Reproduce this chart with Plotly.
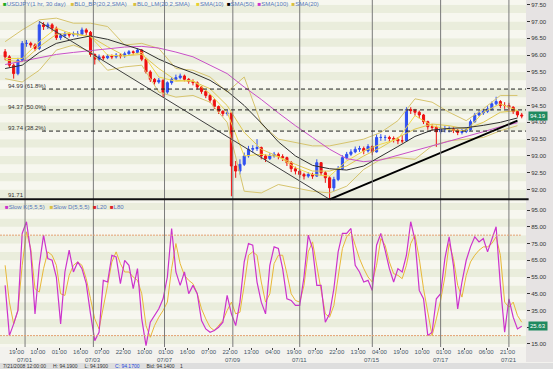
import plotly.graph_objects as go

# ---------------- data ----------------
first_open = 96.10
close = [95.95, 95.70, 95.45, 95.85, 96.35, 96.35, 96.30, 96.20, 96.90, 96.85,
         96.90, 96.80, 96.52, 96.58, 96.62, 96.60, 96.62, 96.62, 96.75, 96.68,
         96.02, 95.88, 95.95, 95.92, 95.97, 95.95, 96.00, 95.98, 96.04, 96.10,
         96.08, 96.15, 95.88, 95.50, 95.28, 95.20, 95.25, 94.90, 95.18, 95.28,
         95.33, 95.38, 95.28, 95.22, 95.18, 95.05, 94.92, 94.80, 94.66, 94.47,
         94.33, 94.26, 94.28, 92.70, 92.55, 92.75, 93.00, 93.20, 93.22, 93.25,
         93.00, 92.92, 93.00, 93.05, 92.98, 92.95, 92.80, 92.62, 92.55, 92.45,
         92.40, 92.45, 92.40, 92.80, 92.50, 92.35, 92.05, 92.30, 92.62, 92.95,
         93.05, 93.12, 93.20, 93.22, 93.15, 93.28, 93.12, 93.55, 93.55, 93.55,
         93.52, 93.50, 93.45, 93.45, 94.38, 94.35, 94.30, 94.22, 94.02, 93.87,
         93.85, 93.72, 93.80, 93.80, 93.80, 93.76, 93.70, 93.73, 93.78, 94.02,
         94.22, 94.28, 94.33, 94.40, 94.55, 94.62, 94.50, 94.50, 94.45, 94.32,
         94.22, 94.19]
high = [96.18, 96.00, 95.75, 95.92, 96.42, 96.45, 96.40, 96.35, 97.00, 96.98,
        96.97, 96.95, 96.85, 96.65, 96.70, 96.68, 96.70, 96.72, 96.82, 96.80,
        96.72, 96.05, 96.02, 96.00, 96.03, 96.02, 96.06, 96.05, 96.10, 96.15,
        96.14, 96.20, 96.18, 95.92, 95.55, 95.32, 95.32, 95.28, 95.22, 95.35,
        95.42, 95.45, 95.42, 95.32, 95.28, 95.22, 95.08, 94.96, 94.84, 94.70,
        94.50, 94.36, 94.36, 94.30, 92.85, 92.90, 93.10, 93.30, 93.32, 93.50,
        93.28, 93.05, 93.08, 93.12, 93.10, 93.05, 92.98, 92.85, 92.68, 92.60,
        92.50, 92.52, 92.50, 92.90, 92.82, 92.55, 92.40, 92.38, 92.70, 93.02,
        93.12, 93.20, 93.28, 93.30, 93.28, 93.35, 93.32, 93.65, 93.65, 93.62,
        93.60, 93.58, 93.55, 93.62, 94.45, 94.45, 94.40, 94.35, 94.25, 94.05,
        93.95, 93.90, 93.88, 93.90, 93.88, 93.85, 93.80, 93.80, 93.85, 94.08,
        94.28, 94.36, 94.40, 94.48, 94.62, 94.76, 94.66, 94.60, 94.58, 94.48,
        94.35, 94.28]
low = [95.85, 95.62, 95.30, 95.40, 95.80, 96.25, 96.22, 96.12, 96.15, 96.75,
       96.78, 96.70, 96.45, 96.45, 96.52, 96.52, 96.55, 96.55, 96.58, 96.60,
       95.95, 95.72, 95.82, 95.85, 95.88, 95.88, 95.90, 95.90, 95.92, 96.00,
       96.00, 96.04, 95.82, 95.45, 95.20, 95.12, 95.15, 94.75, 94.85, 95.12,
       95.25, 95.28, 95.22, 95.15, 95.10, 94.98, 94.85, 94.72, 94.58, 94.40,
       94.25, 94.18, 94.20, 91.80, 92.35, 92.45, 92.70, 92.95, 93.10, 93.15,
       92.90, 92.82, 92.88, 92.95, 92.90, 92.85, 92.70, 92.52, 92.45, 92.35,
       92.30, 92.35, 92.32, 92.38, 92.42, 92.20, 91.71, 91.95, 92.25, 92.58,
       92.90, 93.00, 93.08, 93.12, 93.05, 93.10, 93.02, 93.10, 93.45, 93.45,
       93.42, 93.40, 93.35, 93.38, 93.42, 94.25, 94.20, 94.12, 93.95, 93.78,
       93.75, 93.27, 93.65, 93.70, 93.70, 93.68, 93.62, 93.64, 93.68, 93.75,
       93.98, 94.18, 94.22, 94.28, 94.35, 94.50, 94.42, 94.40, 94.35, 94.25,
       94.15, 94.12]
open_ = [first_open] + close[:-1]
bars = [-14 + 3 * i for i in range(len(close))]      # hourly bar index of each candle

# indicators, read every 4th candle
ind_x = bars[::4]
sma50 = [95.60, 95.70, 96.08, 96.35, 96.47, 96.57, 96.47, 96.32, 96.15, 95.88,
         95.66, 95.47, 95.25, 94.93, 94.50, 93.98, 93.42, 93.00, 92.72, 92.62,
         92.58, 92.70, 92.98, 93.28, 93.58, 93.77, 93.82, 93.84, 93.91, 94.00, 94.13]
sma100 = [95.72, 95.82, 95.93, 96.02, 96.08, 96.13, 96.19, 96.24, 96.26, 96.21,
          96.09, 95.95, 95.70, 95.45, 95.05, 94.68, 94.28, 93.90, 93.55, 93.20,
          92.92, 92.83, 92.88, 93.02, 93.15, 93.30, 93.42, 93.57, 93.72, 93.87, 93.99]
bb_upper = [96.40, 96.75, 97.05, 97.10, 96.95, 96.95, 96.85, 96.30, 96.35, 96.20,
            95.60, 95.55, 95.35, 94.90, 95.35, 93.95, 93.50, 93.40, 93.30, 93.30,
            93.40, 93.50, 93.70, 94.05, 94.70, 94.60, 94.30, 94.05, 94.40, 94.80, 94.80]
bb_lower = [95.30, 95.20, 95.55, 96.15, 96.30, 96.10, 95.55, 95.65, 95.70, 94.90,
            94.75, 94.80, 94.60, 94.00, 91.95, 91.90, 92.15, 92.05, 91.95, 91.90,
            92.10, 92.60, 92.90, 92.95, 92.90, 93.30, 93.45, 93.50, 93.55, 93.75, 93.90]
sma20 = [95.85, 95.80, 96.25, 96.62, 96.65, 96.55, 96.25, 95.98, 96.02, 95.60,
         95.25, 95.22, 95.00, 94.50, 93.70, 93.20, 92.98, 92.75, 92.55, 92.55,
         92.70, 93.00, 93.25, 93.55, 93.80, 93.95, 93.90, 93.80, 94.00, 94.30, 94.35]
sma10 = [95.90, 95.90, 96.40, 96.80, 96.62, 96.55, 96.00, 95.97, 96.08, 95.35,
         95.22, 95.25, 94.85, 94.30, 93.00, 93.05, 92.98, 92.65, 92.45, 92.40,
         92.85, 93.15, 93.35, 93.50, 94.20, 93.90, 93.78, 93.75, 94.30, 94.55, 94.35]

slow_k = [50, 20, 27, 35, 81, 88, 70, 33, 62, 80, 66, 65, 55, 27, 58, 71, 58, 64, 60, 51,
          33, 17, 22, 53, 52, 68, 67, 51, 65, 62, 48, 60, 30, 14, 28, 32, 36, 42, 55, 84,
          58, 50, 58, 45, 50, 45, 29, 24, 22, 23, 25, 28, 44, 33, 26, 40, 64, 75, 74, 52,
          40, 33, 62, 73, 72, 60, 42, 41, 38, 38, 55, 80, 72, 50, 50, 28, 33, 48, 70, 81,
          81, 84, 62, 58, 52, 53, 47, 74, 81, 71, 60, 52, 60, 58, 68, 88, 77, 47, 42, 20,
          22, 42, 45, 66, 79, 62, 36, 52, 65, 73, 79, 76, 78, 70, 78, 85, 50, 22, 42, 31,
          24, 25.63]
slow_d = [62, 40, 27, 35, 62, 82, 72, 48, 46, 60, 70, 68, 62, 45, 44, 56, 62, 64, 62, 54,
          42, 30, 24, 36, 50, 64, 70, 63, 58, 58, 55, 53, 45, 26, 19, 26, 31, 35, 40, 60,
          75, 63, 56, 53, 51, 45, 36, 30, 25, 23, 26, 29, 35, 40, 33, 34, 50, 68, 70, 68,
          52, 40, 45, 63, 68, 68, 57, 45, 41, 40, 50, 70, 76, 62, 48, 33, 31, 38, 55, 72,
          79, 82, 74, 66, 60, 55, 52, 62, 78, 74, 64, 57, 56, 54, 62, 75, 80, 66, 48, 33,
          20, 30, 41, 55, 75, 66, 50, 43, 56, 64, 68, 71, 73, 73, 75, 79, 68, 40, 37, 40,
          32, 28]

time_tick_bars = [-6, 9, 24, 39, 54, 69, 84, 99, 114, 129, 144, 159, 174, 189, 204,
                  219, 234, 249, 264, 279, 294, 309, 324, 339]
time_tick_labels = ["19:00", "10:00", "01:00", "16:00", "07:00", "22:00", "10:00", "01:00",
                    "16:00", "07:00", "22:00", "13:00", "04:00", "19:00", "07:00", "22:00",
                    "13:00", "04:00", "19:00", "10:00", "01:00", "16:00", "06:00", "21:00"]
day_bars = [0, 48, 98, 146, 193, 244, 292, 340]
day_labels = ["07/01", "07/03", "07/07", "07/09", "07/11", "07/15", "07/17", "07/21"]

fib_levels = [94.99, 94.37, 93.74]
fib_labels = ["94.99 (61.8%)", "94.37 (50.0%)", "93.74 (38.2%)"]
swing_low = 91.71
trend_down_x = [bars[8], bars[76]]
trend_down_y = [high[8], low[76]]
trend_up_x = [bars[76], 346]
trend_up_y = [low[76], 94.05]
osc_levels = [20, 80]

price_ticks = [92.0, 92.5, 93.0, 93.5, 94.0, 94.5, 95.0, 95.5, 96.0, 96.5, 97.0, 97.5]
osc_ticks = [15, 25, 35, 45, 55, 65, 75, 85, 95]
last_price = 94.19
last_k = 25.63

# ---------------- figure ----------------
W, H = 553, 369
ML, MR, MT, MB = 0, 27, 0, 22
PH = H - MT - MB
PW = W - ML - MR
split = 203  # pixel row where the oscillator panel starts
osc_top = 1 - split / PH

fig = go.Figure()

gold = "#d6c46e"
fig.add_trace(go.Scatter(x=ind_x, y=bb_upper, mode="lines", line=dict(color=gold, width=1), yaxis="y"))
fig.add_trace(go.Scatter(x=ind_x, y=bb_lower, mode="lines", line=dict(color=gold, width=1), yaxis="y"))
fig.add_trace(go.Scatter(x=ind_x, y=sma20, mode="lines", line=dict(color="#e0c850", width=1), yaxis="y"))
fig.add_trace(go.Scatter(x=ind_x, y=sma10, mode="lines", line=dict(color="#efd84a", width=1), yaxis="y"))
fig.add_trace(go.Scatter(x=ind_x, y=sma100, mode="lines", line=dict(color="#c850c8", width=1), yaxis="y"))
fig.add_trace(go.Scatter(x=ind_x, y=sma50, mode="lines", line=dict(color="#303030", width=1), yaxis="y"))

fig.add_trace(go.Candlestick(
    x=bars, open=open_, high=high, low=low, close=close,
    increasing=dict(line=dict(color="#3050f0", width=1), fillcolor="#3050f0"),
    decreasing=dict(line=dict(color="#ee1111", width=1), fillcolor="#ee1111"),
    whiskerwidth=0, yaxis="y"))

fig.add_trace(go.Scatter(x=trend_down_x, y=trend_down_y, mode="lines",
                         line=dict(color="#404040", width=1), yaxis="y"))
fig.add_trace(go.Scatter(x=trend_up_x, y=trend_up_y, mode="lines",
                         line=dict(color="#000000", width=2), yaxis="y"))

fig.add_trace(go.Scatter(x=bars, y=slow_d, mode="lines", line=dict(color="#e8b838", width=1), yaxis="y2"))
fig.add_trace(go.Scatter(x=bars, y=slow_k, mode="lines", line=dict(color="#cc33cc", width=1.2), yaxis="y2"))

shapes = []
# background stripes
lv = 91.5
k = 0
while lv < 97.8:
    shapes.append(dict(type="rect", xref="paper", yref="y", x0=0, x1=1, y0=lv, y1=lv + 0.25,
                       fillcolor="#f7f7ef" if k % 2 == 0 else "#eaeddc", line=dict(width=0), layer="below"))
    lv += 0.25
    k += 1
lv = 10
k = 0
while lv < 100:
    shapes.append(dict(type="rect", xref="paper", yref="y2", x0=0, x1=1, y0=lv, y1=lv + 5,
                       fillcolor="#f7f7ef" if k % 2 == 0 else "#eaeddc", line=dict(width=0), layer="below"))
    lv += 5
    k += 1
# right axis strip
shapes.append(dict(type="rect", xref="paper", yref="paper", x0=1, x1=W / PW,
                   y0=-(362 - PH) / PH, y1=1, fillcolor="#e6e3e3", line=dict(width=0), layer="below"))
# day separators
for b in day_bars:
    shapes.append(dict(type="line", xref="x", yref="paper", x0=b, x1=b, y0=0, y1=1,
                       line=dict(color="#7a7a7a", width=1), layer="above"))
# fib levels
for lvl in fib_levels:
    shapes.append(dict(type="line", xref="paper", yref="y", x0=42 / PW, x1=1, y0=lvl, y1=lvl,
                       line=dict(color="#222222", width=1, dash="4px,3px"), layer="above"))
shapes.append(dict(type="line", xref="paper", yref="y", x0=0, x1=1.005, y0=swing_low, y1=swing_low,
                   line=dict(color="#111111", width=2), layer="above"))
for lvl in osc_levels:
    shapes.append(dict(type="line", xref="paper", yref="y2", x0=0, x1=0.99, y0=lvl, y1=lvl,
                       line=dict(color="#e3a070", width=1, dash="2px,1px"), layer="above"))
# status bar
shapes.append(dict(type="rect", xref="paper", yref="paper", x0=0, x1=W / PW,
                   y0=-(H - PH) / PH, y1=-(363 - PH) / PH,
                   fillcolor="#dedede", line=dict(width=0), layer="below"))

ann = []
FONT = "Liberation Sans"
lab_col = "#5577bb"
leg = ("<span style='color:#22aa22'>■</span>USDJPY(1 hr, 30 day)   "
       "<span style='color:#d8c040'>■</span>BL0_BP(20,2,SMA)    "
       "<span style='color:#d8c040'>■</span>BL0_LM(20,2,SMA)    "
       "<span style='color:#e8d030'>■</span>SMA(10)  "
       "<span style='color:#000000'>■</span>SMA(50)  "
       "<span style='color:#cc33cc'>■</span>SMA(100)  "
       "<span style='color:#d8c040'>■</span>SMA(20)")
ann.append(dict(xref="paper", yref="paper", x=0.002, y=1 - 4 / PH, xanchor="left", yanchor="middle",
                text=leg, showarrow=False, font=dict(family=FONT, size=6, color=lab_col)))
leg2 = ("<span style='color:#cc33cc'>■</span>Slow K(5,5,5)   "
        "<span style='color:#d8c040'>■</span>Slow D(5,5,5)  "
        "<span style='color:#dd2222'>■</span>L20  "
        "<span style='color:#dd2222'>■</span>L80")
ann.append(dict(xref="paper", yref="paper", x=0.006, y=1 - 207 / PH, xanchor="left", yanchor="middle",
                text=leg2, showarrow=False, font=dict(family=FONT, size=6, color=lab_col)))
for lvl, txt in zip(fib_levels, fib_labels):
    ann.append(dict(xref="paper", yref="y", x=6 / PW, y=lvl, xanchor="left", yanchor="bottom",
                    text=txt, showarrow=False, font=dict(family=FONT, size=6, color="#333333"),
                    yshift=-2))
ann.append(dict(xref="paper", yref="y", x=6 / PW, y=swing_low, xanchor="left", yanchor="bottom",
                text=f"{swing_low:.2f}", showarrow=False, font=dict(family=FONT, size=6, color="#333333"),
                yshift=-1))
for b, d in zip(day_bars, day_labels):
    ann.append(dict(xref="x", yref="paper", x=b, y=-(360.5 - PH) / PH, xanchor="center", yanchor="middle",
                    text=d, showarrow=False, font=dict(family=FONT, size=6, color="#445566")))
ann.append(dict(xref="paper", yref="y", x=1.003, y=last_price, xanchor="left", yanchor="middle",
                text=f"{last_price:.2f}", showarrow=False, bgcolor="#1f8a60", borderpad=1,
                font=dict(family=FONT, size=6, color="#ffffff")))
ann.append(dict(xref="paper", yref="y2", x=1.003, y=last_k, xanchor="left", yanchor="middle",
                text=f"{last_k:.2f}", showarrow=False, bgcolor="#1f8a60", borderpad=1,
                font=dict(family=FONT, size=6, color="#ffffff")))
status = ("7/21/2008 12:00:00 &nbsp;&nbsp;&nbsp; H: 94.1900 &nbsp;&nbsp;&nbsp; L: 94.1900 &nbsp;&nbsp;&nbsp; "
          "<span style='color:#2244dd'>C: 94.1700</span> &nbsp;&nbsp;&nbsp; Bid: 94.1400 &nbsp;&nbsp; 1")
ann.append(dict(xref="paper", yref="paper", x=0.002, y=-(366 - PH) / PH, xanchor="left", yanchor="middle",
                text=status, showarrow=False, font=dict(family=FONT, size=5, color="#333333")))

fig.update_layout(
    width=W, height=H,
    margin=dict(l=ML, r=MR, t=MT, b=MB, pad=0, autoexpand=False),
    paper_bgcolor="#f3f2ee", plot_bgcolor="#f7f7ef",
    showlegend=False,
    shapes=shapes, annotations=ann,
    xaxis=dict(domain=[0, 1], anchor="y2", range=[-17.6, 352.0], rangeslider=dict(visible=False),
               tickmode="array", tickvals=time_tick_bars, ticktext=time_tick_labels,
               ticks="outside", ticklen=2, tickcolor="#444444", showgrid=False, zeroline=False,
               ticklabelstandoff=-3,
               tickfont=dict(family=FONT, size=6, color="#445566"), showline=False),
    yaxis=dict(domain=[osc_top, 1], anchor="x", side="right", range=[91.60, 97.64],
               tickmode="array", tickvals=price_ticks, ticktext=[f"{v:.2f}" for v in price_ticks],
               ticks="outside", ticklen=3, tickcolor="#333333", showgrid=False, zeroline=False,
               tickfont=dict(family=FONT, size=6, color="#333333")),
    yaxis2=dict(domain=[0, osc_top], anchor="x", side="right", range=[13.2, 99.2],
                tickmode="array", tickvals=osc_ticks, ticktext=[f"{v:.2f}" for v in osc_ticks],
                ticks="outside", ticklen=3, tickcolor="#333333", showgrid=False, zeroline=False,
                tickfont=dict(family=FONT, size=6, color="#333333")),
)

fig.write_html("out.html", config={"displayModeBar": False},
               post_script="document.body.style.margin='0';document.body.style.overflow='hidden';")
